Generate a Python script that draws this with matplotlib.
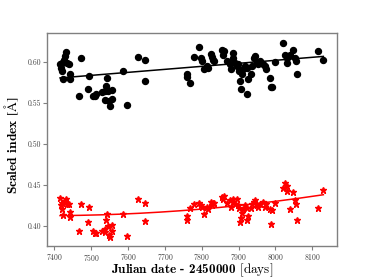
import numpy as np
import matplotlib
matplotlib.use("Agg")
import matplotlib.pyplot as plt

plt.rcParams['font.family'] = 'serif'
plt.rcParams['font.serif'] = ['cmr10']
plt.rcParams['mathtext.fontset'] = 'cm'
plt.rcParams['axes.formatter.use_mathtext'] = True

# dates (JD - 2450000), shared by both indices
jd = np.array([7415, 7420, 7418, 7420, 7423, 7426, 7430, 7429, 7433, 7439,
               7441, 7443, 7467, 7472, 7490, 7495, 7504, 7509, 7512, 7528,
               7536, 7540, 7542, 7537, 7544, 7548, 7551, 7556, 7556, 7587,
               7596, 7626, 7646, 7647, 7759, 7761, 7768, 7779, 7793, 7797,
               7800, 7806, 7813, 7818, 7824, 7827, 7831, 7834, 7854, 7857,
               7860, 7868, 7877, 7878, 7884, 7886, 7890, 7895, 7899, 7902,
               7904, 7906, 7908, 7911, 7917, 7922, 7924, 7926, 7933, 7935,
               7942, 7944, 7949, 7953, 7958, 7965, 7972, 7974, 7985, 7987,
               7990, 7999, 8021, 8026, 8030, 8032, 8039, 8048, 8053, 8057,
               8059, 8116, 8130])

# black circles
idx_black = np.array([0.597, 0.599, 0.593, 0.589, 0.579, 0.603, 0.612, 0.607, 0.599, 0.598,
                      0.585, 0.579, 0.558, 0.605, 0.567, 0.583, 0.558, 0.559, 0.561, 0.563,
                      0.564, 0.571, 0.581, 0.554, 0.565, 0.552, 0.546, 0.555, 0.566, 0.589,
                      0.548, 0.606, 0.577, 0.602, 0.585, 0.582, 0.574, 0.606, 0.618, 0.605,
                      0.601, 0.592, 0.595, 0.593, 0.610, 0.606, 0.603, 0.601, 0.615, 0.609,
                      0.613, 0.601, 0.597, 0.591, 0.611, 0.605, 0.599, 0.595, 0.597, 0.589,
                      0.577, 0.567, 0.585, 0.591, 0.595, 0.561, 0.593, 0.579, 0.585, 0.595,
                      0.605, 0.607, 0.599, 0.597, 0.601, 0.597, 0.595, 0.591, 0.581, 0.569,
                      0.569, 0.600, 0.623, 0.609, 0.599, 0.605, 0.609, 0.615, 0.605, 0.601,
                      0.585, 0.613, 0.602])

# red stars
idx_red = np.array([0.434, 0.428, 0.425, 0.420, 0.413, 0.429, 0.432, 0.430, 0.427, 0.426,
                    0.417, 0.411, 0.393, 0.426, 0.404, 0.423, 0.393, 0.391, 0.391, 0.394,
                    0.396, 0.407, 0.414, 0.392, 0.399, 0.388, 0.386, 0.393, 0.401, 0.414,
                    0.387, 0.432, 0.406, 0.428, 0.412, 0.407, 0.421, 0.426, 0.428, 0.425,
                    0.423, 0.414, 0.423, 0.420, 0.429, 0.425, 0.428, 0.428, 0.435, 0.433,
                    0.436, 0.428, 0.431, 0.423, 0.433, 0.429, 0.426, 0.433, 0.425, 0.422,
                    0.404, 0.409, 0.416, 0.420, 0.425, 0.407, 0.421, 0.412, 0.422, 0.426,
                    0.429, 0.431, 0.425, 0.423, 0.427, 0.429, 0.423, 0.426, 0.420, 0.402,
                    0.419, 0.428, 0.446, 0.452, 0.448, 0.442, 0.420, 0.441, 0.431, 0.427,
                    0.407, 0.422, 0.444])

# trend curves
trend_jd = [7415, 7600, 7800, 8000, 8130]
trend_black = [0.5805, 0.5873, 0.5947, 0.6020, 0.6068]
trend_red = [0.4125, 0.4140, 0.4205, 0.4300, 0.4376]

fig = plt.figure(figsize=(3.74, 2.8), dpi=100)
ax = fig.add_axes([0.126, 0.121, 0.775, 0.760])

ax.plot(jd, idx_black, 'o', color='black', ms=4.3, mec='black')
ax.plot(jd, idx_red, '*', color='red', ms=4.9, mec='red')

tt = np.linspace(trend_jd[0], trend_jd[-1], 200)
pb = np.polyfit(trend_jd, trend_black, 1)
pr = np.polyfit(trend_jd, trend_red, 2)
ax.plot(tt, np.polyval(pb, tt), color='black', lw=1.1)
ax.plot(tt, np.polyval(pr, tt), color='red', lw=1.1)

ax.set_xlim(7380, 8167)
ax.set_ylim(0.375, 0.635)
ax.set_xticks([7400, 7500, 7600, 7700, 7800, 7900, 8000, 8100])
ax.set_yticks([0.40, 0.45, 0.50, 0.55, 0.60])
ax.set_yticklabels(['0.40', '0.45', '0.50', '0.55', '0.60'])

for s in ax.spines.values():
    s.set_color('#808080')
    s.set_linewidth(1.0)
ax.tick_params(colors='#808080', labelcolor='#404040', labelsize=5.5,
               length=3, width=0.8, direction='out', pad=1.5)

ax.set_xlabel(r'Julian date - 2450000 $[\mathrm{days}]$', fontsize=9.5,
              family='cmb10', va='top')
ax.xaxis.set_label_coords(0.5, -0.07)
ax.set_ylabel(r'Scaled index $[\mathrm{\AA}]$', fontsize=9.7,
              family='cmb10', math_fontfamily='stix', va='center')
ax.yaxis.set_label_coords(-0.12, 0.476)

fig.savefig('out.png', dpi=100)
